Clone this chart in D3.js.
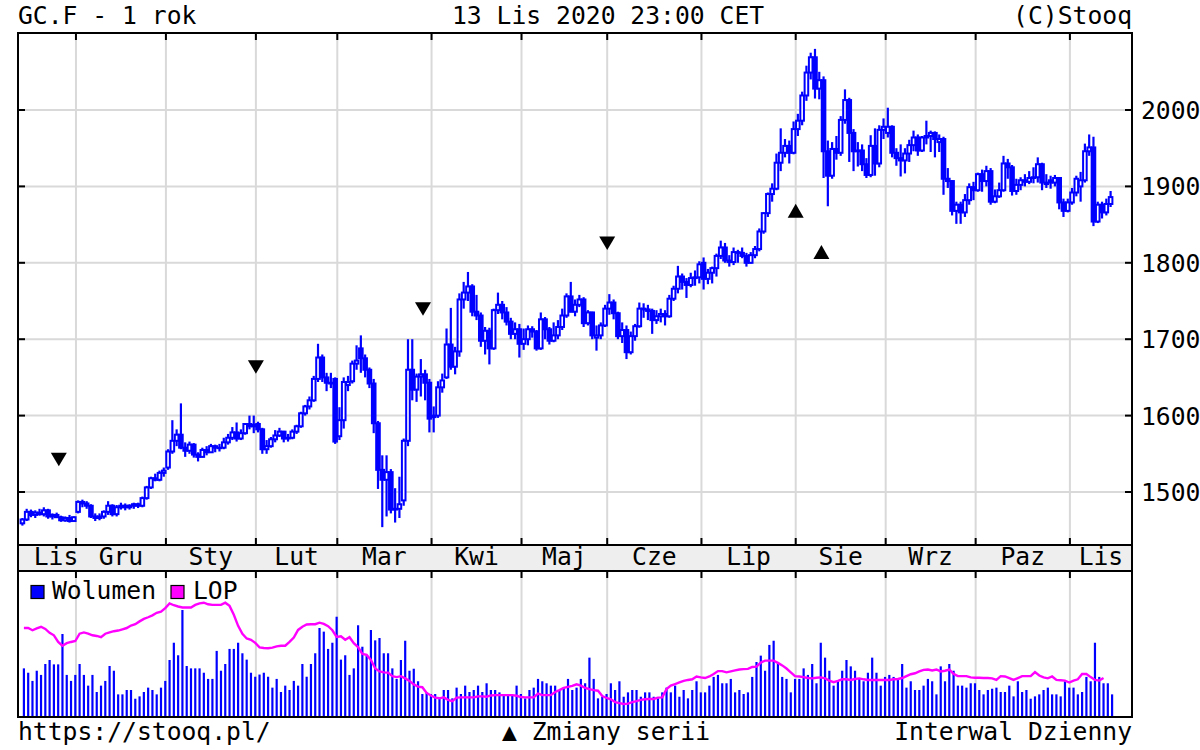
<!DOCTYPE html>
<html><head><meta charset="utf-8">
<script src="https://cdn.jsdelivr.net/npm/d3@7"></script>
<style>
body{margin:0;background:#fff}
svg{display:block}
text{font-family:'DejaVu Sans Mono',monospace;font-size:24.7px;fill:#000}
</style>
</head><body>
<svg id="c" width="1200" height="750"></svg>
<script>
const tradingDays = [
"2019-11-12","2019-11-13","2019-11-14","2019-11-15","2019-11-18","2019-11-19","2019-11-20","2019-11-21","2019-11-22","2019-11-25","2019-11-26","2019-11-27","2019-11-29",
"2019-12-02","2019-12-03","2019-12-04","2019-12-05","2019-12-06","2019-12-09","2019-12-10","2019-12-11","2019-12-12","2019-12-13","2019-12-16","2019-12-17","2019-12-18","2019-12-19","2019-12-20","2019-12-23","2019-12-24","2019-12-26","2019-12-27","2019-12-30","2019-12-31",
"2020-01-02","2020-01-03","2020-01-06","2020-01-07","2020-01-08","2020-01-09","2020-01-10","2020-01-13","2020-01-14","2020-01-15","2020-01-16","2020-01-17","2020-01-21","2020-01-22","2020-01-23","2020-01-24","2020-01-27","2020-01-28","2020-01-29","2020-01-30","2020-01-31",
"2020-02-03","2020-02-04","2020-02-05","2020-02-06","2020-02-07","2020-02-10","2020-02-11","2020-02-12","2020-02-13","2020-02-14","2020-02-18","2020-02-19","2020-02-20","2020-02-21","2020-02-24","2020-02-25","2020-02-26","2020-02-27","2020-02-28",
"2020-03-02","2020-03-03","2020-03-04","2020-03-05","2020-03-06","2020-03-09","2020-03-10","2020-03-11","2020-03-12","2020-03-13","2020-03-16","2020-03-17","2020-03-18","2020-03-19","2020-03-20","2020-03-23","2020-03-24","2020-03-25","2020-03-26","2020-03-27","2020-03-30","2020-03-31",
"2020-04-01","2020-04-02","2020-04-03","2020-04-06","2020-04-07","2020-04-08","2020-04-09","2020-04-13","2020-04-14","2020-04-15","2020-04-16","2020-04-17","2020-04-20","2020-04-21","2020-04-22","2020-04-23","2020-04-24","2020-04-27","2020-04-28","2020-04-29","2020-04-30",
"2020-05-01","2020-05-04","2020-05-05","2020-05-06","2020-05-07","2020-05-08","2020-05-11","2020-05-12","2020-05-13","2020-05-14","2020-05-15","2020-05-18","2020-05-19","2020-05-20","2020-05-21","2020-05-22","2020-05-26","2020-05-27","2020-05-28","2020-05-29",
"2020-06-01","2020-06-02","2020-06-03","2020-06-04","2020-06-05","2020-06-08","2020-06-09","2020-06-10","2020-06-11","2020-06-12","2020-06-15","2020-06-16","2020-06-17","2020-06-18","2020-06-19","2020-06-22","2020-06-23","2020-06-24","2020-06-25","2020-06-26","2020-06-29","2020-06-30",
"2020-07-01","2020-07-02","2020-07-06","2020-07-07","2020-07-08","2020-07-09","2020-07-10","2020-07-13","2020-07-14","2020-07-15","2020-07-16","2020-07-17","2020-07-20","2020-07-21","2020-07-22","2020-07-23","2020-07-24","2020-07-27","2020-07-28","2020-07-29","2020-07-30","2020-07-31",
"2020-08-03","2020-08-04","2020-08-05","2020-08-06","2020-08-07","2020-08-10","2020-08-11","2020-08-12","2020-08-13","2020-08-14","2020-08-17","2020-08-18","2020-08-19","2020-08-20","2020-08-21","2020-08-24","2020-08-25","2020-08-26","2020-08-27","2020-08-28","2020-08-31",
"2020-09-01","2020-09-02","2020-09-03","2020-09-04","2020-09-08","2020-09-09","2020-09-10","2020-09-11","2020-09-14","2020-09-15","2020-09-16","2020-09-17","2020-09-18","2020-09-21","2020-09-22","2020-09-23","2020-09-24","2020-09-25","2020-09-28","2020-09-29","2020-09-30",
"2020-10-01","2020-10-02","2020-10-05","2020-10-06","2020-10-07","2020-10-08","2020-10-09","2020-10-12","2020-10-13","2020-10-14","2020-10-15","2020-10-16","2020-10-19","2020-10-20","2020-10-21","2020-10-22","2020-10-23","2020-10-26","2020-10-27","2020-10-28","2020-10-29","2020-10-30",
"2020-11-02","2020-11-03","2020-11-04","2020-11-05","2020-11-06","2020-11-09","2020-11-10","2020-11-11","2020-11-12","2020-11-13"
];

const openPrices = [
1459,1464,1474,1470,1473,1471,1476,1468,1470,1467,1463,1466,1462,
1474,1487,1485,1482,1468,1466,1468,1474,1482,1471,1480,1482,1480,1482,1484,1482,1492,1506,1518,1516,1525,
1532,1553,1567,1575,1558,1554,1562,1549,1546,1555,1552,1560,1558,1558,1565,1571,1578,1570,1577,1589,1586,
1589,1582,1556,1560,1569,1574,1579,1570,1571,1579,1586,1603,1612,1620,1648,1676,1650,1643,1648,
1573,1594,1640,1645,1668,1688,1675,1660,1642,1590,1529,1516,1526,1477,1478,1489,1567,1660,1634,1651,1654,1643,
1598,1600,1637,1650,1693,1664,1684,1752,1761,1769,1736,1731,1698,1711,1688,1738,1745,1735,1723,1707,1713,
1694,1700,1713,1710,1688,1726,1713,1698,1705,1716,1731,1756,1736,1745,1752,1721,1735,1702,1705,1718,
1740,1748,1734,1704,1712,1683,1704,1717,1740,1739,1737,1725,1730,1733,1730,1753,1766,1782,1775,1771,1780,1781,
1800,1779,1787,1793,1809,1820,1803,1801,1814,1813,1809,1800,1810,1818,1841,1865,1890,1897,1931,1944,1953,1944,
1975,1986,2019,2049,2069,2028,2039,1946,1914,1949,1944,1987,2013,1970,1946,1947,1929,1915,1953,1930,1974,
1970,1978,1944,1937,1934,1943,1954,1964,1947,1964,1966,1970,1958,1962,1910,1907,1868,1876,1866,1882,1899,
1895,1916,1907,1920,1880,1887,1895,1930,1925,1894,1902,1908,1906,1911,1912,1929,1903,1908,1905,1911,1879,1868,
1879,1892,1900,1908,1946,1951,1854,1876,1866,1877
];
const highPrices = [
1466,1478,1477,1476,1478,1480,1478,1472,1473,1469,1468,1470,1468,
1489,1490,1488,1484,1472,1472,1476,1488,1484,1483,1486,1485,1484,1486,1486,1494,1508,1520,1524,1528,1532,
1556,1594,1582,1616,1565,1566,1564,1552,1558,1560,1563,1562,1563,1571,1576,1585,1591,1582,1590,1600,1600,
1592,1584,1568,1572,1581,1584,1580,1576,1582,1588,1605,1614,1625,1652,1694,1680,1656,1656,1650,
1611,1650,1652,1672,1692,1705,1680,1663,1648,1593,1548,1548,1530,1505,1520,1570,1700,1700,1655,1674,1660,1648,
1612,1645,1655,1714,1741,1690,1760,1775,1788,1772,1758,1735,1716,1715,1740,1761,1750,1742,1728,1722,1720,
1714,1718,1717,1712,1735,1729,1716,1722,1725,1740,1760,1775,1752,1758,1755,1738,1736,1718,1722,1745,
1759,1752,1736,1722,1718,1710,1720,1748,1747,1745,1740,1738,1740,1738,1758,1770,1796,1786,1780,1787,1790,1802,
1807,1792,1795,1812,1829,1826,1810,1820,1817,1820,1813,1814,1822,1845,1866,1892,1904,1943,1976,1962,1960,1985,
1995,2024,2058,2075,2080,2050,2044,1960,1958,1966,1992,2027,2016,1975,1958,1955,1937,1967,1976,1980,1989,
2003,1980,1950,1955,1950,1961,1973,1968,1966,1986,1973,1972,1968,1965,1924,1908,1880,1880,1890,1904,1906,
1918,1922,1927,1924,1896,1905,1940,1936,1928,1910,1912,1916,1920,1925,1938,1931,1916,1914,1915,1912,1884,1884,
1898,1914,1919,1956,1968,1965,1880,1880,1884,1894
];
const lowPrices = [
1456,1462,1467,1466,1469,1468,1465,1464,1466,1461,1461,1460,1461,
1472,1480,1478,1466,1462,1463,1465,1470,1468,1468,1477,1476,1477,1478,1479,1480,1490,1504,1514,1514,1520,
1529,1550,1560,1556,1546,1550,1545,1540,1545,1548,1551,1552,1553,1556,1562,1568,1566,1568,1575,1582,1577,
1578,1550,1550,1558,1565,1572,1565,1566,1569,1576,1584,1600,1608,1618,1644,1644,1632,1636,1563,
1568,1583,1632,1642,1660,1656,1650,1636,1577,1504,1454,1468,1472,1460,1466,1482,1560,1620,1618,1625,1620,1578,
1578,1597,1630,1648,1660,1654,1677,1740,1750,1730,1725,1690,1680,1667,1686,1733,1726,1718,1700,1700,1676,
1686,1692,1702,1685,1686,1700,1693,1696,1700,1712,1728,1735,1730,1742,1716,1718,1700,1685,1700,1716,
1732,1726,1700,1695,1674,1680,1698,1715,1728,1725,1707,1720,1722,1718,1728,1750,1760,1765,1754,1768,1770,1773,
1765,1772,1773,1782,1805,1800,1795,1797,1800,1806,1795,1799,1806,1815,1838,1860,1880,1895,1920,1938,1930,1942,
1966,1980,2012,2040,2015,2014,1911,1874,1910,1935,1940,1982,1932,1920,1926,1920,1911,1912,1914,1925,1962,
1964,1938,1927,1913,1917,1932,1946,1940,1945,1955,1945,1938,1945,1889,1898,1862,1851,1851,1860,1876,1882,
1893,1893,1900,1876,1878,1885,1893,1910,1888,1889,1895,1900,1903,1904,1905,1895,1898,1897,1900,1870,1860,1866,
1876,1887,1880,1905,1940,1848,1852,1858,1862,1873
];
const closePrices = [
1464,1474,1470,1473,1471,1476,1468,1470,1467,1463,1466,1462,1467,
1487,1485,1482,1468,1466,1468,1474,1482,1471,1480,1482,1480,1482,1484,1482,1492,1506,1518,1516,1525,1528,
1553,1567,1575,1558,1554,1562,1549,1546,1555,1552,1560,1558,1558,1565,1571,1578,1570,1577,1589,1586,1588,
1582,1556,1560,1569,1574,1579,1570,1571,1579,1586,1603,1612,1620,1648,1676,1650,1643,1642,1566,
1594,1644,1644,1668,1672,1675,1660,1642,1590,1529,1516,1526,1477,1478,1484,1567,1660,1634,1651,1654,1643,1596,
1600,1637,1646,1693,1664,1684,1752,1761,1769,1736,1731,1698,1711,1688,1738,1745,1735,1723,1707,1713,1694,
1700,1713,1710,1688,1726,1713,1698,1705,1716,1731,1756,1736,1745,1752,1721,1735,1705,1705,1718,1740,
1748,1734,1704,1712,1683,1704,1717,1740,1739,1737,1725,1730,1733,1730,1753,1766,1782,1775,1771,1780,1781,1798,
1779,1787,1793,1809,1820,1803,1801,1814,1813,1809,1800,1810,1818,1841,1865,1890,1897,1931,1944,1953,1944,1975,
1986,2019,2049,2069,2028,2039,1946,1914,1949,1944,1987,2013,1970,1946,1947,1929,1915,1953,1930,1974,1978,
1978,1944,1937,1934,1943,1954,1964,1947,1964,1966,1970,1962,1962,1910,1907,1868,1876,1866,1882,1899,1895,
1916,1907,1920,1880,1887,1895,1930,1925,1894,1902,1908,1906,1911,1912,1929,1905,1905,1905,1911,1879,1868,1879,
1892,1910,1908,1946,1951,1854,1876,1866,1877,1886
];
const volume = [
262,238,193,249,226,286,308,284,284,451,226,193,226,286,226,167,226,132,167,193,
275,249,119,119,143,143,95,108,132,156,143,119,156,193,308,403,334,583,275,262,
262,262,238,204,204,358,249,286,369,369,403,345,310,238,216,228,238,216,156,204,
132,167,143,193,167,286,216,286,345,484,464,369,403,546,310,334,226,262,499,381,
334,473,416,429,345,345,262,204,
308,414,249,260,191,121,130,121,121,97,143,143,97,156,121,167,132,143,167,132,
180,143,143,130,110,110,110,167,121,97,143,156,204,191,180,167,167,143,156,204,
143,156,204,180,321,204,97,106,121,180,143,191,106,130,143,143,106,130,130,106,
97,130,156,130,167,106,143,97,143,191,130,130,167,215,226,180,180,204,130,143,
121,130,215,297,332,249,391,414,297,215,204,130,204,
204,262,226,286,180,403,321,249,167,191,249,308,273,249,204,191,238,321,238,167,
215,226,215,204,286,156,191,143,143,167,204,191,119,273,191,286,249,167,167,156,
180,180,143,119,143,150,156,132,132,167,108,191,132,143,95,108,119,143,156,119,
119,108,191,156,156,119,132,215,191,403,215,180,180,119
];
const lop = [
720,720,713,719,724,717,705,697,676,664,672,676,679,702,706,702,697,695,691,702,
706,710,712,716,720,728,732,741,749,754,760,768,772,783,798,792,788,785,785,785,
793,798,800,795,793,793,793,800,790,762,727,702,687,683,673,659,657,656,658,662,
664,664,676,690,714,724,731,732,732,737,733,726,713,692,694,683,691,672,660,638,
635,619,592,583,580,579,568,565,568,561,553,542,535,533,515,507,500,498,501,493,
489,500,501,501,501,501,504,504,503,507,508,508,508,508,508,506,502,501,501,501,
513,508,508,508,518,524,531,534,537,542,538,531,527,524,522,505,499,495,486,483,
480,481,486,489,493,495,496,496,500,501,527,538,543,548,553,556,558,567,564,562,
567,575,584,584,580,583,586,589,590,591,597,598,611,617,617,617,610,602,592,580,
568,567,565,562,561,563,564,561,554,549,553,558,558,556,559,561,558,556,556,556,
556,556,556,558,559,562,568,574,577,583,588,589,586,589,583,585,589,575,568,568,
568,564,563,563,562,562,561,556,568,567,562,556,562,568,568,568,581,570,564,561,
567,556,555,554,548,554,558,575,575,565,556,554,562,null,null
];
const seriesChangeIdx = [9, 55, 94, 137, 181, 187];
const seriesChangeLevel = [1543, 1664, 1740, 1826, 1868, 1814];
const seriesChangeDir = ["down","down","down","down","up","up"];
const yTicks = [1500, 1600, 1700, 1800, 1900, 2000];
const monthNames = ["Sty","Lut","Mar","Kwi","Maj","Cze","Lip","Sie","Wrz","Paz","Lis","Gru"];

const svg = d3.select("#c");
const L = 18, R = 1132, T = 33, B = 545, BAND_B = 571, VB = 717;
const BLUE = "#0000ff", GRID = "#d9d9d9";

const x = d3.scaleLinear().domain([0, tradingDays.length - 1]).range([22.4, 1110.6]);
const y = d3.scaleLinear().domain([1500, 2000]).range([492, 110]);
const yVol = d3.scaleLinear().domain([0, d3.max(volume)]).range([716, 610]);
const yLop = d3.scaleLinear().domain(d3.extent(lop.filter(v => v != null))).range([704, 602.7]);

const monthStarts = [];
tradingDays.forEach((d, i) => {
  if (i === 0 || d.slice(0, 7) !== tradingDays[i - 1].slice(0, 7)) monthStarts.push(i);
});
const gridX = monthStarts.slice(1).map(i => x(i - 0.5));

svg.append("rect").attr("x", L).attr("y", B).attr("width", R - L).attr("height", BAND_B - B).attr("fill", "#eeeeee");

const g = svg.append("g");
g.selectAll(".hg").data(yTicks).enter().append("line")
  .attr("x1", L).attr("x2", R).attr("y1", d => y(d)).attr("y2", d => y(d))
  .attr("stroke", GRID).attr("stroke-width", 2);
g.selectAll(".vg").data(gridX).enter().append("line")
  .attr("x1", d => d).attr("x2", d => d).attr("y1", T).attr("y2", B)
  .attr("stroke", GRID).attr("stroke-width", 2);
g.selectAll(".vg2").data(gridX).enter().append("line")
  .attr("x1", d => d).attr("x2", d => d).attr("y1", BAND_B).attr("y2", VB)
  .attr("stroke", GRID).attr("stroke-width", 2);

const idx = d3.range(tradingDays.length);
const cg = svg.append("g");
cg.selectAll(".wick").data(idx).enter().append("line")
  .attr("x1", i => x(i)).attr("x2", i => x(i))
  .attr("y1", i => y(highPrices[i])).attr("y2", i => y(lowPrices[i]))
  .attr("stroke", BLUE).attr("stroke-width", 2.2);
cg.selectAll(".body").data(idx).enter().append("rect")
  .attr("x", i => x(i) - 1.8).attr("width", 3.6)
  .attr("y", i => y(Math.max(openPrices[i], closePrices[i])))
  .attr("height", i => Math.max(0.5, Math.abs(y(openPrices[i]) - y(closePrices[i]))))
  .attr("fill", i => closePrices[i] >= openPrices[i] ? "#fff" : BLUE)
  .attr("stroke", BLUE).attr("stroke-width", 2);

const mg = svg.append("g");
seriesChangeIdx.forEach((ci, k) => {
  const cx = x(ci - 0.5), cy = y(seriesChangeLevel[k]);
  const p = seriesChangeDir[k] === "down"
    ? `M${cx - 8},${cy - 6.5}L${cx + 8},${cy - 6.5}L${cx},${cy + 7}Z`
    : `M${cx - 8},${cy + 7}L${cx + 8},${cy + 7}L${cx},${cy - 7}Z`;
  mg.append("path").attr("d", p).attr("fill", "#000");
});

svg.append("g").selectAll("line").data(idx).enter().append("line")
  .attr("x1", i => x(i) + 1.5).attr("x2", i => x(i) + 1.5)
  .attr("y1", i => yVol(volume[i])).attr("y2", 716.5)
  .attr("stroke", BLUE).attr("stroke-width", 2.2);

const lopLine = d3.line().defined(d => d != null).x((d, i) => x(i) + 1.5).y(d => yLop(d));
svg.append("path").datum(lop).attr("d", lopLine)
  .attr("fill", "none").attr("stroke", "#ff00ff").attr("stroke-width", 2.4);

const tk = svg.append("g").attr("stroke", "#000").attr("stroke-width", 2);
gridX.forEach(gx => {
  tk.append("line").attr("x1", gx).attr("x2", gx).attr("y1", T).attr("y2", T + 7);
  tk.append("line").attr("x1", gx).attr("x2", gx).attr("y1", B - 7).attr("y2", B);
  tk.append("line").attr("x1", gx).attr("x2", gx).attr("y1", BAND_B).attr("y2", BAND_B + 7);
});
yTicks.forEach(t => {
  tk.append("line").attr("x1", L).attr("x2", L + 7).attr("y1", y(t)).attr("y2", y(t));
  tk.append("line").attr("x1", R - 7).attr("x2", R).attr("y1", y(t)).attr("y2", y(t));
});

const fr = svg.append("g").attr("stroke", "#000").attr("stroke-width", 2).attr("fill", "none");
fr.append("rect").attr("x", L).attr("y", T).attr("width", R - L).attr("height", VB - T);
fr.append("line").attr("x1", L).attr("x2", R).attr("y1", B).attr("y2", B);
fr.append("line").attr("x1", L).attr("x2", R).attr("y1", BAND_B).attr("y2", BAND_B);

svg.append("g").selectAll("text").data(yTicks).enter().append("text")
  .attr("x", 1141).attr("y", d => y(d) + 8.9).text(d => d);

monthStarts.forEach((s, k) => {
  const left = k === 0 ? L : x(s - 0.5);
  const right = k === monthStarts.length - 1 ? R : x(monthStarts[k + 1] - 0.5);
  let cx = (left + right) / 2;
  if (k === 0) cx = Math.max(cx, L + 38);
  const m = +tradingDays[s].slice(5, 7) - 1;
  svg.append("text").attr("x", cx).attr("y", 565).attr("text-anchor", "middle").text(monthNames[m]);
});

svg.append("rect").attr("x", 31).attr("y", 585.5).attr("width", 13).attr("height", 13)
  .attr("fill", BLUE).attr("stroke", "#000").attr("stroke-width", 1.2);
svg.append("text").attr("x", 52).attr("y", 599).text("Wolumen");
svg.append("rect").attr("x", 171).attr("y", 585.5).attr("width", 13).attr("height", 13)
  .attr("fill", "#ff00ff").attr("stroke", "#000").attr("stroke-width", 1.2);
svg.append("text").attr("x", 193).attr("y", 599).text("LOP");

svg.append("text").attr("x", 18).attr("y", 24).text("GC.F - 1 rok");
svg.append("text").attr("x", 452).attr("y", 24).text("13 Lis 2020 23:00 CET");
svg.append("text").attr("x", 1132).attr("y", 24).attr("text-anchor", "end").text("(C)Stooq");
svg.append("text").attr("x", 18).attr("y", 740).text("https://stooq.pl/");
svg.append("text").attr("x", 502).attr("y", 740).text("▲ Zmiany serii");
svg.append("text").attr("x", 1132).attr("y", 740).attr("text-anchor", "end").text("Interwal Dzienny");
</script>
</body></html>
